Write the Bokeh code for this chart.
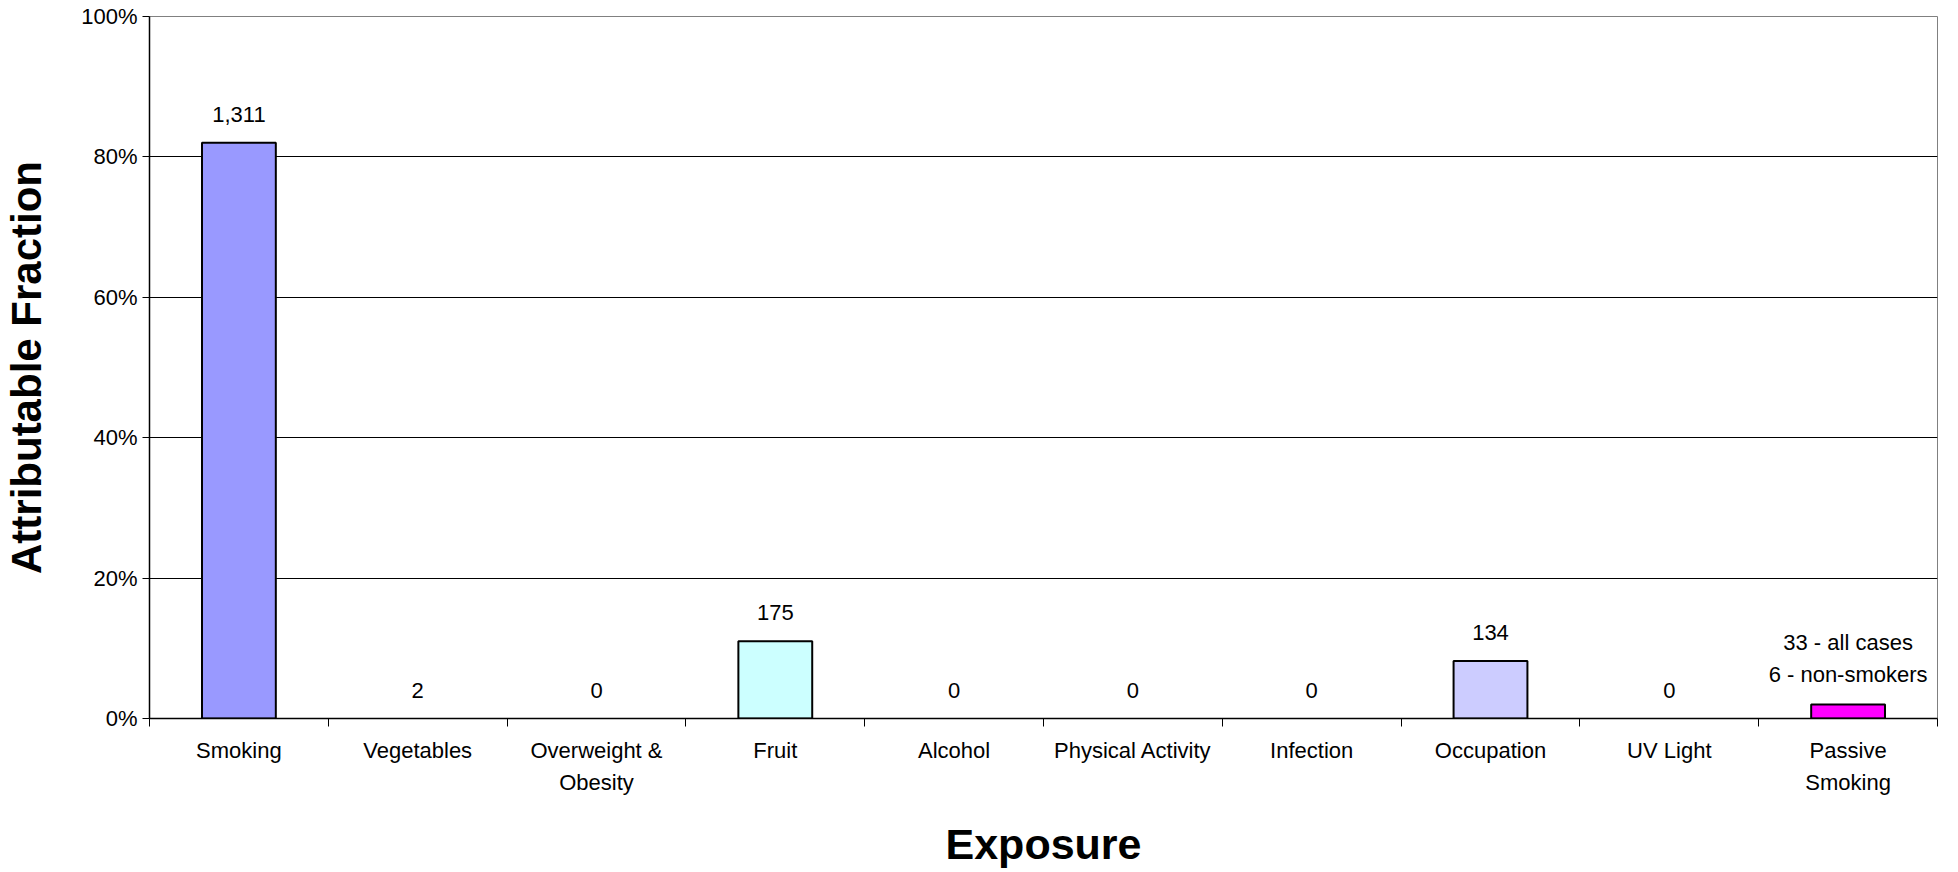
from bokeh.plotting import figure
from bokeh.models import ColumnDataSource, Range1d, FixedTicker, NumeralTickFormatter
from bokeh.core.properties import value
from bokeh.embed import file_html
from bokeh.resources import INLINE
import numpy as np

# Attributable fraction by exposure, with case counts shown above each bar
exposures = ["Smoking", "Vegetables", "Overweight &\nObesity", "Fruit", "Alcohol",
             "Physical Activity", "Infection", "Occupation", "UV Light", "Passive\nSmoking"]
fractions = [0.82, 0.0, 0.0, 0.11, 0.0, 0.0, 0.0, 0.082, 0.0, 0.02]
case_labels = ["1,311", "2", "0", "175", "0", "0", "0", "134", "0",
               "33 - all cases\n6 - non-smokers"]
bar_colors = ["#9999FF", "#9999FF", "#9999FF", "#CCFFFF", "#9999FF",
              "#9999FF", "#9999FF", "#CCCCFF", "#9999FF", "#FF00FF"]
y_ticks = [0.0, 0.2, 0.4, 0.6, 0.8, 1.0]

FONT = "Liberation Sans"

centers = np.arange(len(exposures)) + 0.5
src = ColumnDataSource(dict(
    x=centers,
    top=fractions,
    label=case_labels,
    color=bar_colors,
    # empty bars get no outline
    outline=[1.0 if f > 0 else 0.0 for f in fractions],
    # multi-line labels carry extra leading below the last line
    yoff=[-17 if "\n" in s else -21 for s in case_labels],
))

p = figure(width=1958, height=872, output_backend="svg", toolbar_location=None,
           x_range=Range1d(0, len(exposures)), y_range=Range1d(0, 1),
           min_border_left=147, min_border_right=21, min_border_top=16,
           min_border_bottom=154)
p.background_fill_color = "white"
p.border_fill_color = "white"
p.outline_line_color = "#808080"
p.outline_line_width = 1

# bars
p.vbar(x="x", top="top", bottom=0, width=0.413, source=src,
       fill_color="color", line_color="black", line_width=2, line_alpha="outline")

# count labels above bars
p.text(x="x", y="top", text="label", source=src, text_align="center",
       text_baseline="bottom", y_offset="yoff", text_font=value(FONT),
       text_font_size="22px", text_color="black", text_line_height=1.3)

# y axis
p.yaxis.ticker = FixedTicker(ticks=y_ticks)
p.yaxis.formatter = NumeralTickFormatter(format="0%")
p.yaxis.axis_line_color = "black"
p.yaxis.axis_line_width = 1.5
p.yaxis.major_tick_line_color = "black"
p.yaxis.major_tick_out = 7
p.yaxis.major_tick_in = 0
p.yaxis.minor_tick_line_color = None
p.yaxis.major_label_standoff = 5
p.yaxis.major_label_text_font = FONT
p.yaxis.major_label_text_font_size = "22px"
p.yaxis.major_label_text_color = "black"
p.yaxis.axis_label = "Attributable Fraction"
p.yaxis.axis_label_text_font = FONT
p.yaxis.axis_label_text_font_size = "42px"
p.yaxis.axis_label_text_font_style = "bold"
p.yaxis.axis_label_text_color = "black"
p.yaxis.axis_label_standoff = 28

# x axis: labels at category centres, tick marks at category boundaries
p.xaxis.ticker = FixedTicker(ticks=list(centers),
                             minor_ticks=list(range(len(exposures) + 1)))
p.xaxis.major_label_overrides = {float(c): e for c, e in zip(centers, exposures)}
p.xaxis.axis_line_color = "black"
p.xaxis.axis_line_width = 1.5
p.xaxis.major_tick_line_color = None
p.xaxis.major_tick_out = 8
p.xaxis.major_tick_in = 0
p.xaxis.minor_tick_line_color = "black"
p.xaxis.minor_tick_out = 8
p.xaxis.minor_tick_in = 0
p.xaxis.major_label_standoff = 11
p.xaxis.major_label_text_font = FONT
p.xaxis.major_label_text_font_size = "22px"
p.xaxis.major_label_text_color = "black"
p.xaxis.major_label_text_line_height = 1.3
p.xaxis.axis_label = "Exposure"
p.xaxis.axis_label_text_font = FONT
p.xaxis.axis_label_text_font_size = "43px"
p.xaxis.axis_label_text_font_style = "bold"
p.xaxis.axis_label_text_color = "black"
p.xaxis.axis_label_standoff = 22

# grid
p.xgrid.grid_line_color = None
p.ygrid.ticker = FixedTicker(ticks=[0.2, 0.4, 0.6, 0.8])
p.ygrid.grid_line_color = "black"
p.ygrid.grid_line_width = 1

open("out.html", "w").write(file_html(p, INLINE))
